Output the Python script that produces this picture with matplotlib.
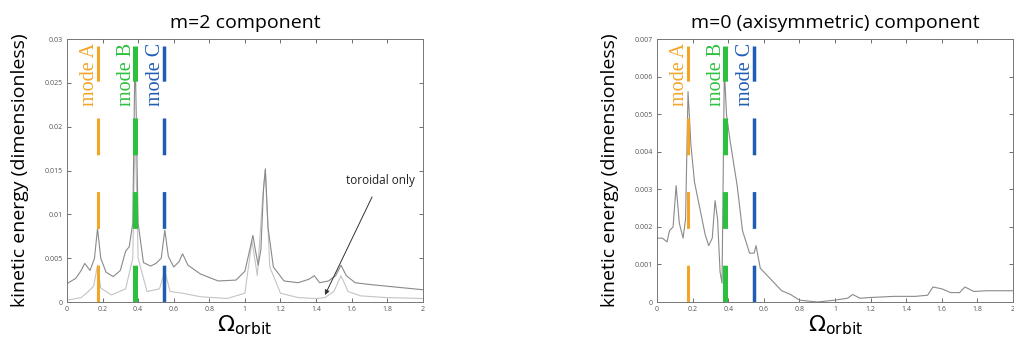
import numpy as np
import matplotlib
matplotlib.use('Agg')
import matplotlib.pyplot as plt
import matplotlib.transforms as mtransforms

plt.rcParams['font.family'] = ['Open Sans', 'DejaVu Sans']
plt.rcParams['lines.scale_dashes'] = False

# m=2 component, total kinetic energy (upper curve)
m2_x = [0, 0.05, 0.08, 0.10, 0.13, 0.155, 0.172, 0.19, 0.22, 0.26, 0.30, 0.33, 0.35, 0.37,
        0.383, 0.40, 0.43, 0.47, 0.50, 0.53, 0.55, 0.57, 0.60, 0.63, 0.65, 0.68, 0.75, 0.85,
        0.95, 1.00, 1.03, 1.045, 1.06, 1.075, 1.09, 1.105, 1.115, 1.13, 1.16, 1.22, 1.30,
        1.36, 1.39, 1.42, 1.47, 1.51, 1.54, 1.57, 1.62, 1.70, 1.80, 1.90, 2.0]
m2_y = [0.0021, 0.0027, 0.0036, 0.0044, 0.0036, 0.0050, 0.0084, 0.0050, 0.0034, 0.0029,
        0.0036, 0.0058, 0.0063, 0.0090, 0.0290, 0.0090, 0.0045, 0.0041, 0.0044, 0.0050,
        0.0082, 0.0052, 0.0040, 0.0046, 0.0055, 0.0042, 0.0032, 0.0024, 0.0025, 0.0035,
        0.0062, 0.0076, 0.0058, 0.0042, 0.0060, 0.0130, 0.0152, 0.0085, 0.0040, 0.0024,
        0.0022, 0.0026, 0.0030, 0.0022, 0.0024, 0.0030, 0.0042, 0.0030, 0.0022, 0.0020,
        0.0018, 0.0016, 0.0014]

# m=2 component, toroidal only (lower curve)
tor_x = [0, 0.08, 0.12, 0.15, 0.172, 0.19, 0.25, 0.33, 0.37, 0.383, 0.40, 0.45, 0.52, 0.55,
         0.58, 0.65, 0.75, 0.90, 1.00, 1.04, 1.07, 1.10, 1.115, 1.14, 1.20, 1.30, 1.40,
         1.45, 1.50, 1.54, 1.58, 1.65, 1.80, 2.0]
tor_y = [0.0002, 0.0005, 0.0012, 0.0018, 0.0042, 0.0016, 0.0008, 0.0015, 0.0050, 0.0200,
         0.0050, 0.0012, 0.0015, 0.0035, 0.0012, 0.0010, 0.0006, 0.0004, 0.0010, 0.0070,
         0.0030, 0.0120, 0.0150, 0.0040, 0.0010, 0.0005, 0.0004, 0.0005, 0.0012, 0.0030,
         0.0012, 0.0007, 0.0005, 0.0004]

# m=0 component
m0_x = [0, 0.03, 0.056, 0.07, 0.09, 0.107, 0.125, 0.146, 0.16, 0.174, 0.19, 0.21, 0.24,
        0.27, 0.29, 0.31, 0.326, 0.34, 0.354, 0.365, 0.378, 0.39, 0.41, 0.45, 0.48, 0.52,
        0.545, 0.556, 0.58, 0.62, 0.66, 0.70, 0.75, 0.80, 0.90, 1.00, 1.07, 1.10, 1.14,
        1.20, 1.33, 1.45, 1.52, 1.55, 1.60, 1.65, 1.70, 1.73, 1.78, 1.85, 2.0]
m0_y = [0.0017, 0.0017, 0.0016, 0.0019, 0.0020, 0.0031, 0.0021, 0.0017, 0.0022, 0.0056,
        0.0042, 0.0032, 0.0025, 0.0018, 0.0015, 0.0017, 0.0027, 0.0022, 0.0008, 0.0005,
        0.0062, 0.0050, 0.0043, 0.0031, 0.0019, 0.0013, 0.0013, 0.0015, 0.0009, 0.0007,
        0.0005, 0.0003, 0.0002, 0.00005, 0.0, 0.00005, 0.0001, 0.0002, 0.0001, 0.00012,
        0.00015, 0.00015, 0.00018, 0.0004, 0.00035, 0.00025, 0.00025, 0.0004, 0.00028,
        0.0003, 0.0003]

mode_names = ['mode A', 'mode B', 'mode C']
mode_x = [0.174, 0.383, 0.546]
mode_colors = ['#f2a526', '#2cc13d', '#1f5db3']
mode_lw = [2.2, 3.6, 2.5]

x_ticks = [0, 0.2, 0.4, 0.6, 0.8, 1, 1.2, 1.4, 1.6, 1.8, 2]
x_tick_labels = ['0', '0.2', '0.4', '0.6', '0.8', '1', '1.2', '1.4', '1.6', '1.8', '2']
m2_yticks = [0, 0.005, 0.01, 0.015, 0.02, 0.025, 0.03]
m2_ytick_labels = ['0', '0.005', '0.01', '0.015', '0.02', '0.025', '0.03']
m0_yticks = [0, 0.001, 0.002, 0.003, 0.004, 0.005, 0.006, 0.007]
m0_ytick_labels = ['0', '0.001', '0.002', '0.003', '0.004', '0.005', '0.006', '0.007']

fig = plt.figure(figsize=(10.14, 3.38), dpi=100)
ax1 = fig.add_axes([0.066, 0.1065, 0.351, 0.778])
ax2 = fig.add_axes([0.648, 0.1065, 0.351, 0.778])


def style_axes(ax, ymax, yticks, yticklabels, title):
    ax.set_xlim(0, 2)
    ax.set_ylim(0, ymax)
    ax.set_xticks(x_ticks)
    ax.set_xticklabels(x_tick_labels)
    ax.set_yticks(yticks)
    ax.set_yticklabels(yticklabels)
    ax.tick_params(direction='in', top=True, right=True, length=3, width=0.6,
                   labelsize=5, colors='#555555', pad=3)
    for sp in ax.spines.values():
        sp.set_color('#777777')
        sp.set_linewidth(0.7)
    ax.set_title(title, fontsize=14, pad=8)
    ax.set_ylabel('kinetic energy (dimensionless)', fontsize=14, labelpad=11)
    ax.set_xlabel(r'$\Omega_{\mathrm{orbit}}$', fontsize=16, labelpad=0)


def mode_lines(ax, ymax):
    for name, xm, c, lw in zip(mode_names, mode_x, mode_colors, mode_lw):
        ax.plot([xm, xm], [0, ymax * 0.975], color=c, lw=lw, dashes=(26.5, 26.5),
                solid_capstyle='butt', zorder=3)
        off = mtransforms.offset_copy(ax.transData, fig=fig, x=-6, y=0, units='points')
        ax.text(xm, ymax * 0.985, name, transform=off, rotation=90, ha='center', va='top',
                color=c, fontsize=14.5, family=['Liberation Serif', 'DejaVu Serif'], zorder=4)


# left panel
ax1.plot(tor_x, tor_y, color='#c4c4c4', lw=0.8, zorder=2)
ax1.plot(m2_x, m2_y, color='#8a8a8a', lw=0.8, zorder=2)
mode_lines(ax1, 0.03)
ax1.annotate('toroidal only', xy=(1.45, 0.0008), xytext=(1.76, 0.0139),
             ha='center', va='center', fontsize=8.5, color='#222222',
             arrowprops=dict(arrowstyle='-|>', color='#333333', lw=0.7, mutation_scale=7,
                             shrinkA=6, shrinkB=0))
style_axes(ax1, 0.03, m2_yticks, m2_ytick_labels, 'm=2 component')

# right panel
ax2.plot(m0_x, m0_y, color='#8a8a8a', lw=0.8, zorder=2)
mode_lines(ax2, 0.007)
style_axes(ax2, 0.007, m0_yticks, m0_ytick_labels, 'm=0 (axisymmetric) component')

fig.savefig('out.png', dpi=100)
